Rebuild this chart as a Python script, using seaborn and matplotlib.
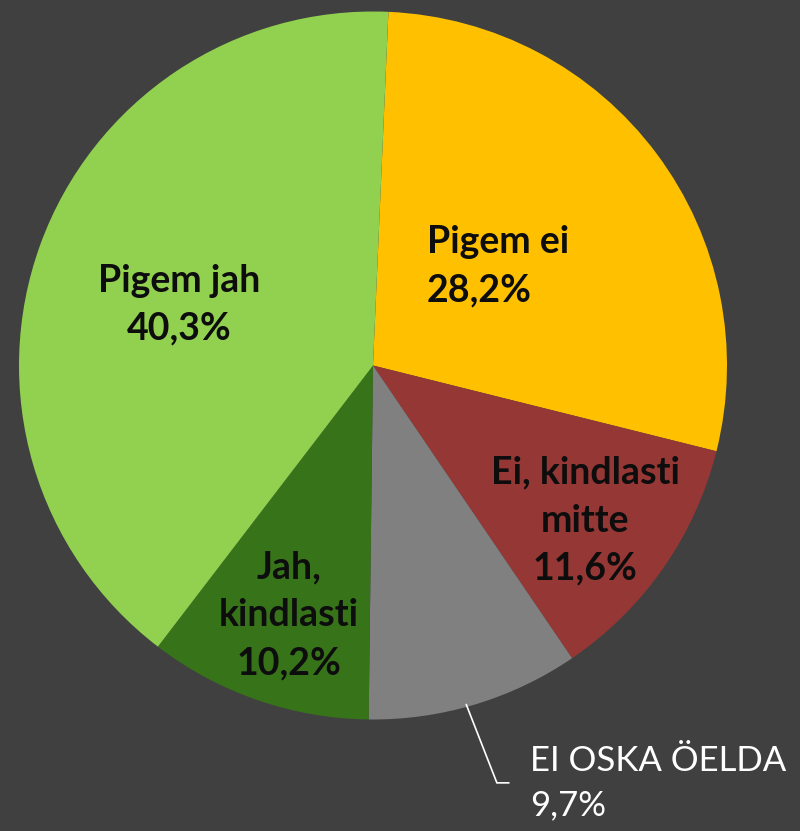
import numpy as np
import matplotlib
matplotlib.use("Agg")
import matplotlib.pyplot as plt
import seaborn as sns

# data (clockwise from top)
labels = ["Pigem ei", "Ei, kindlasti\nmitte", "EI OSKA ÖELDA", "Jah,\nkindlasti", "Pigem jah"]
values = [28.2, 11.6, 9.7, 10.2, 40.3]
colors = ["#FFC000", "#953735", "#808080", "#377319", "#92D050"]

BG = "#404040"
INK = "#0D0D0D"

sns.set_theme(style="white")
plt.rcParams['font.family'] = ['Lato', 'DejaVu Sans']

fig = plt.figure(figsize=(8, 8.31), dpi=100, facecolor=BG)
ax = fig.add_axes([0, 0, 1, 1])
ax.set_facecolor(BG)

start = 87.5
wedges, _ = ax.pie(values, colors=colors, startangle=start, counterclock=False,
                   radius=1.0, center=(0, 0), frame=False,
                   wedgeprops=dict(linewidth=0))

# map pixels -> data: centre at (373, 365.5), 354 px per unit
ax.set_xlim(-373 / 354, (800 - 373) / 354)
ax.set_ylim(-(831 - 365.5) / 354, 365.5 / 354)
ax.set_aspect('auto')
ax.axis('off')

def fmt(v):
    return f"{v:.1f}".replace(".", ",") + "%"

fs = 27
ls = 1.5
# inside labels
ax.text(0.1525, 0.281, f"{labels[0]}\n{fmt(values[0])}", ha='left', va='center',
        fontsize=fs, fontweight='bold', color=INK, linespacing=ls)
ax.text(0.599, -0.439, f"{labels[1]}\n{fmt(values[1])}", ha='center', va='center',
        fontsize=fs, fontweight='bold', color=INK, linespacing=ls, multialignment='center')
ax.text(-0.237, -0.705, f"{labels[3]}\n{fmt(values[3])}", ha='center', va='center',
        fontsize=fs, fontweight='bold', color=INK, linespacing=ls, multialignment='center')
ax.text(-0.548, 0.171, f"{labels[4]}\n{fmt(values[4])}", ha='center', va='center',
        fontsize=fs, fontweight='bold', color=INK, linespacing=ls, multialignment='center')

# outside label with leader line for the grey slice
w = wedges[2]
mid = np.deg2rad((w.theta1 + w.theta2) / 2)
x0, y0 = np.cos(mid), np.sin(mid)
ax.plot([x0 - 0.025, 0.35, 0.384], [y0, -1.179, -1.179], color='white', lw=1.2,
        solid_joinstyle='miter')
ax.text(0.4435, -1.18, f"{labels[2]}\n{fmt(values[2])}", ha='left', va='center',
        fontsize=25, color='white', linespacing=1.45)

fig.savefig("out.png", dpi=100, facecolor=BG)
